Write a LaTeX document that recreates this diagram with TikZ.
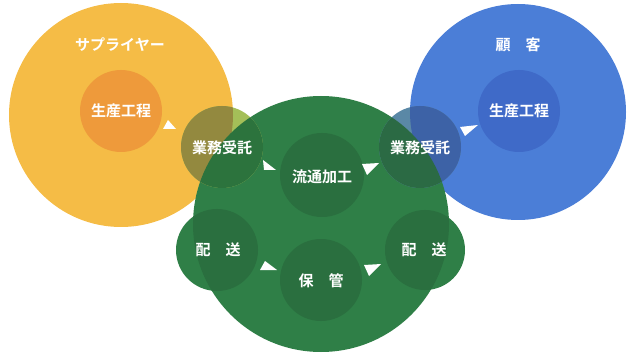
\documentclass[tikz,border=0pt]{standalone}
\usepackage{fontspec}
\newfontfamily\jp{Noto Sans CJK JP}[BoldFont={Noto Sans CJK JP Bold}]
\definecolor{yellowC}{HTML}{F5BC46}
\definecolor{orangeC}{HTML}{EE9A3B}
\definecolor{blueC}{HTML}{4B7ED7}
\definecolor{blueIn}{HTML}{3F6AC8}
\definecolor{greenC}{HTML}{2F7F47}
\definecolor{greenIn}{HTML}{2A6F3F}
\definecolor{lovW}{HTML}{A4BF58}
\definecolor{lovY}{HTML}{93893F}
\definecolor{lovG}{HTML}{2C733D}
\definecolor{rovW}{HTML}{5A88A6}
\definecolor{rovB}{HTML}{3D62A6}
\definecolor{rovG}{HTML}{2B6A44}
\begin{document}
\begin{tikzpicture}[x=1pt,y=-1pt,
  disc/.style={circle,inner sep=0pt,minimum size=#1},
  lbl/.style={text=white,font=\jp\bfseries\fontsize{15}{17}\selectfont,inner sep=0pt},
  tri/.style={fill=white}]
\useasboundingbox (0,0) rectangle (629,358);
% big circles
\node[disc=224pt,fill=yellowC] (sup) at (121,115) {};
\node[disc=216pt,fill=blueC] (cus) at (518,112) {};
\node[disc=256pt,fill=greenC] (mid) at (321,224) {};
% inner circles
\node[disc=82pt,fill=orangeC] (p1) at (121,111) {};
\node[disc=82pt,fill=blueIn] (p2) at (519,111) {};
\node[disc=84pt,fill=greenIn] (ryu) at (322,175) {};
\node[disc=82pt,fill=greenIn] (hok) at (321,280) {};
% delivery circles (partly outside the green)
\fill[greenC] (217,250) circle (41pt);
\fill[greenC] (425,250) circle (40pt);
\begin{scope}\clip (mid.center) circle (128pt);
  \node[disc=82pt,fill=greenIn] (hl) at (217,250) {};
  \node[disc=80pt,fill=greenIn] (hr) at (425,250) {};
\end{scope}
% left outsourcing circle
\node[disc=82pt,fill=lovW] (gl) at (222,147) {};
\begin{scope}\clip (sup.center) circle (112pt);
  \fill[lovY] (gl.center) circle (41pt);
\end{scope}
\begin{scope}\clip (mid.center) circle (128pt);
  \fill[lovG] (gl.center) circle (41pt);
\end{scope}
% right outsourcing circle
\node[disc=82pt,fill=rovW] (gr) at (420,147) {};
\begin{scope}\clip (cus.center) circle (108pt);
  \fill[rovB] (gr.center) circle (41pt);
\end{scope}
\begin{scope}\clip (mid.center) circle (128pt);
  \fill[rovG] (gr.center) circle (41pt);
\end{scope}
% labels
\node[lbl] (tsup) at (120,45) {サプライヤー};
\node[lbl] (tcus) at (518,45) {顧\hspace{1em}客};
\node[lbl] (tp1) at (p1.center) {生産工程};
\node[lbl] (tp2) at (p2.center) {生産工程};
\node[lbl] (tgl) at (222,148) {業務受託};
\node[lbl] (tgr) at (420,148) {業務受託};
\node[lbl] (tryu) at (322,177) {流通加工};
\node[lbl] (thl) at (218,250) {配\hspace{1em}送};
\node[lbl] (thr) at (424,250) {配\hspace{1em}送};
\node[lbl] (thok) at (321,281) {保\hspace{1em}管};
% arrow triangles
\fill[tri] (163,129) -- (168,120) -- (176,129) -- cycle;
\fill[tri] (263,160) -- (264,170) -- (276,170) -- cycle;
\fill[tri] (362,164) -- (379,163) -- (367,175) -- cycle;
\fill[tri] (460,127) -- (478,125) -- (465,136) -- cycle;
\fill[tri] (260,270) -- (265,261) -- (277,270) -- cycle;
\fill[tri] (364,265) -- (381,264) -- (369,276) -- cycle;
\end{tikzpicture}
\end{document}
